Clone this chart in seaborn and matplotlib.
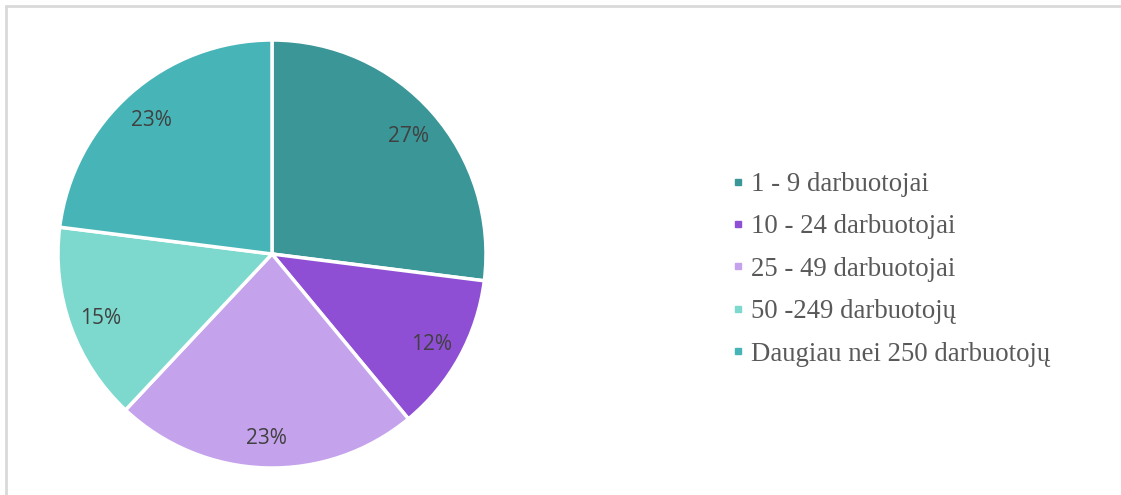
import matplotlib
matplotlib.use("Agg")
import matplotlib.pyplot as plt
from matplotlib.lines import Line2D
import seaborn as sns

# Company size groups and their shares (%)
categories = [
    "1 - 9 darbuotojai",
    "10 - 24 darbuotojai",
    "25 - 49 darbuotojai",
    "50 -249 darbuotojų",
    "Daugiau nei 250 darbuotojų",
]
shares = [27, 12, 23, 15, 23]
palette_hex = ["#3B9698", "#8F4FD4", "#C4A2EC", "#7DD9CD", "#47B5B7"]

sns.set_theme(style="white")
colors = sns.color_palette(palette_hex)

fig = plt.figure(figsize=(11.21, 4.95), dpi=100)
fig.patch.set_facecolor("white")

# Pie axes: centre and radius placed in pixel units of the figure
W, H = 1121, 495
cx, cy, r = 272, 254, 214
ax = fig.add_axes([(cx - r) / W, (H - cy - r) / H, 2 * r / W, 2 * r / H])

wedges, texts, autotexts = ax.pie(
    shares,
    colors=colors,
    startangle=90,
    counterclock=False,
    autopct=lambda p: f"{p:.0f}%",
    pctdistance=0.85,
    wedgeprops=dict(edgecolor="white", linewidth=2.5),
    textprops=dict(family="Open Sans", fontsize=15, color="#404040"),
)
for t in autotexts:
    t.set_verticalalignment("center_baseline")
ax.set_xlim(-1, 1)
ax.set_ylim(-1, 1)
ax.set_aspect("equal", adjustable="box")
ax.axis("off")

# Legend with small square markers
handles = [
    Line2D([0], [0], marker="s", linestyle="none", markersize=4.6,
           markerfacecolor=c, markeredgecolor=c)
    for c in colors
]
leg = fig.legend(
    handles, categories,
    loc="upper left", bbox_to_anchor=(732.6 / W, 1 - 172 / H),
    frameon=False, handlelength=0.4, handletextpad=0.3,
    labelspacing=0.65, borderaxespad=0, borderpad=0,
    prop=dict(family="Liberation Serif", size=19.3),
)
for t in leg.get_texts():
    t.set_color("#595959")

# Thin light frame along the top and left
frame_kw = dict(color="#D9D9D9", linewidth=2, transform=fig.transFigure)
fig.add_artist(Line2D([6 / W, 1], [1 - 6 / H, 1 - 6 / H], **frame_kw))
fig.add_artist(Line2D([6 / W, 6 / W], [0, 1 - 6 / H], **frame_kw))

fig.savefig("out.png", dpi=100, facecolor="white")
